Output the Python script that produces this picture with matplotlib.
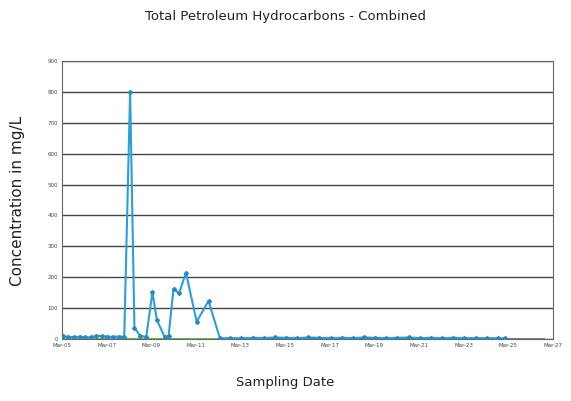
import matplotlib
matplotlib.use("Agg")
import matplotlib.pyplot as plt
import pandas as pd

# ---- data ----
tph_dates = [
    "2005-03-15", "2005-06-15", "2005-09-15", "2005-12-15", "2006-03-15", "2006-06-15",
    "2006-09-15", "2006-12-15", "2007-03-15", "2007-06-15", "2007-09-15", "2007-12-15",
    "2008-03-20", "2008-05-30", "2008-09-01", "2008-12-10", "2009-03-20", "2009-06-01",
    "2009-10-05", "2009-12-10", "2010-03-01", "2010-06-01", "2010-09-20", "2011-03-15",
    "2011-09-25", "2012-03-30",
    "2012-09-15", "2013-03-15", "2013-09-15", "2014-03-15", "2014-09-15", "2015-03-15",
    "2015-09-15", "2016-03-15", "2016-09-15", "2017-03-15", "2017-09-15", "2018-03-15",
    "2018-09-15", "2019-03-15", "2019-09-15", "2020-03-15", "2020-09-15", "2021-03-15",
    "2021-09-15", "2022-03-15", "2022-09-15", "2023-03-15", "2023-09-15", "2024-03-15",
    "2024-09-15", "2025-01-15",
]
tph_values = [
    9, 7, 6, 8, 5, 6, 10, 9, 8, 7, 8, 7,
    800, 37, 10, 7, 152, 62, 7, 10, 163, 148, 215, 56,
    123, 2,
    3, 2, 4, 3, 5, 4, 3, 5, 4, 3, 4, 3,
    5, 4, 3, 4, 5, 3, 4, 3, 4, 3, 2, 3,
    2, 2,
]

green_dates = ["2005-03-15", "2007-03-15", "2009-03-15", "2011-03-15", "2012-06-15"]
green_values = [1, 1, 1, 0.5, 0.5]

dkgreen_dates = ["2012-06-15", "2014-03-15", "2016-03-15", "2018-03-15", "2020-03-15",
                 "2022-03-15", "2024-03-15", "2025-01-15"]
dkgreen_values = [1, 1.5, 2, 2.5, 2, 2, 1.5, 1]

grey_dates = ["2024-09-15", "2025-06-15", "2026-03-15", "2026-10-15"]
grey_values = [1, 0.5, 0.5, 0.5]

y_ticks = [0, 100, 200, 300, 400, 500, 600, 700, 800, 900]
x_tick_years = [2005, 2007, 2009, 2011, 2013, 2015, 2017, 2019, 2021, 2023, 2025, 2027]

# ---- plot ----
fig = plt.figure(figsize=(5.71, 4.01), dpi=100)
ax = fig.add_axes([0.1086, 0.1546, 0.8594, 0.6934])

ax.plot(pd.to_datetime(green_dates), green_values, color="#7ab648", lw=1.2, zorder=2)
ax.plot(pd.to_datetime(dkgreen_dates), dkgreen_values, color="#3d6e4a", lw=1.4, zorder=2)
ax.plot(pd.to_datetime(grey_dates), grey_values, color="#707070", lw=1.0, zorder=2)
ax.plot(pd.to_datetime(tph_dates), tph_values, color="#2b9fd8", lw=1.5,
        marker="D", markersize=2.0, markerfacecolor="#2a86c4",
        markeredgecolor="#2a86c4", zorder=3)

ax.set_ylim(0, 900)
ax.set_yticks(y_ticks)
ax.set_yticklabels([str(v) for v in y_ticks])
ax.set_xlim(pd.Timestamp("2005-03-01"), pd.Timestamp("2027-03-01"))
xt = [pd.Timestamp(f"{y}-03-01") for y in x_tick_years]
ax.set_xticks(xt)
ax.set_xticklabels([f"Mar-{str(y)[2:]}" for y in x_tick_years])

ax.tick_params(axis="both", labelsize=4, colors="#444444", length=0, pad=3)
ax.grid(axis="y", color="#444444", lw=1.0)
ax.set_axisbelow(True)
for s in ax.spines.values():
    s.set_color("#666666")
    s.set_linewidth(0.8)

fig.text(0.5, 0.958, "Total Petroleum Hydrocarbons - Combined", ha="center",
         va="center", fontsize=9.5, color="#222222")
fig.text(0.5, 0.045, "Sampling Date", ha="center", va="center",
         fontsize=9.5, color="#222222")
fig.text(0.03, 0.5, "Concentration in mg/L", ha="center", va="center",
         rotation=90, fontsize=11, color="#222222")

fig.savefig("out.png", dpi=100)
